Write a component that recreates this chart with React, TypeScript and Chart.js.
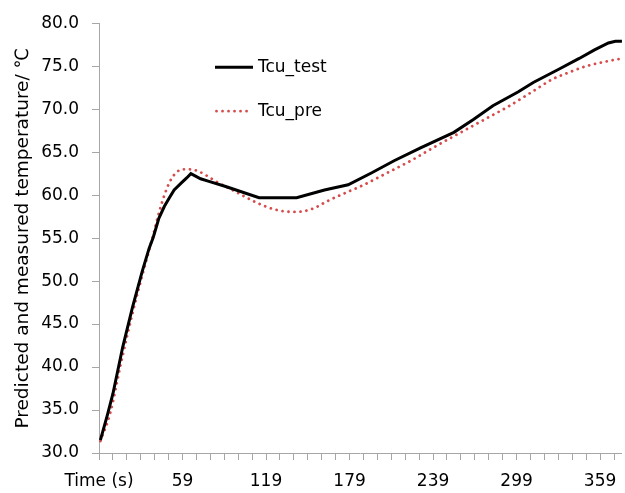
import React, { useEffect, useRef } from "react";
import { Chart, registerables } from "chart.js";

Chart.register(...registerables);

// ---- data (time in s, temperature in ℃) ----
const testTime = [0, 5, 9, 16, 23, 30, 35, 38, 42, 46, 50, 53, 58, 62, 65, 72, 78, 90, 114, 141, 161, 178, 195, 211, 230, 254, 268, 282, 300, 311, 330, 344, 355, 365, 370, 375];
const testValues = [31.5, 34.4, 36.9, 42.3, 46.9, 51.1, 53.8, 55.1, 57.3, 58.7, 59.8, 60.6, 61.4, 62.0, 62.5, 61.9, 61.6, 61.0, 59.7, 59.7, 60.6, 61.2, 62.6, 64.0, 65.5, 67.3, 68.8, 70.4, 72.0, 73.1, 74.7, 75.9, 76.9, 77.7, 77.9, 77.9];

const preTime = [0, 7, 15, 23, 30, 34, 38, 42, 46, 50, 55, 60, 64, 70, 76, 83, 97, 114, 126, 138, 147, 155, 163, 178, 188, 205, 223, 240, 259, 276, 294, 310, 325, 337, 349, 362, 375];
const preValues = [31.4, 34.6, 40.6, 46.2, 50.6, 53.0, 55.4, 57.9, 60.0, 61.6, 62.7, 63.0, 63.0, 62.8, 62.3, 61.6, 60.4, 59.0, 58.3, 58.05, 58.15, 58.6, 59.3, 60.4, 61.1, 62.5, 64.0, 65.6, 67.3, 68.8, 70.4, 72.0, 73.5, 74.3, 75.0, 75.5, 75.9];

const seriesNames = ["Tcu_test", "Tcu_pre"];
const xLabelTicks = [-1, 59, 119, 179, 239, 299, 359];
const xLabelTexts = ["Time (s)", "59", "119", "179", "239", "299", "359"];
const xMin = -1;
const xMax = 374.7;
const xMinorStep = 10;
const yMin = 30;
const yMax = 80;
const yStep = 5;
const yTitle = "Predicted and measured temperature/ \u2103";

const FONT = "'DejaVu Sans', sans-serif";
const AXIS_GRAY = "#a6a6a6";

const legendPlugin = {
  id: "inlineLegend",
  afterDraw(chart: any) {
    const ctx = chart.ctx;
    const { left, top } = chart.chartArea;
    chart.data.datasets.forEach((ds: any, i: number) => {
      const y = top + 44 + i * 44;
      const x0 = left + 116;
      const len = i === 0 ? 38 : 35;
      ctx.save();
      ctx.strokeStyle = ds.borderColor;
      ctx.lineWidth = ds.borderWidth;
      ctx.lineCap = ds.borderCapStyle || "butt";
      ctx.setLineDash(ds.borderDash || []);
      ctx.beginPath();
      ctx.moveTo(x0 + (i === 0 ? 0 : 1.5), y);
      ctx.lineTo(x0 + len, y);
      ctx.stroke();
      ctx.setLineDash([]);
      ctx.fillStyle = "#000";
      ctx.font = `17px ${FONT}`;
      ctx.textBaseline = "middle";
      ctx.textAlign = "left";
      ctx.fillText(ds.label, x0 + 43, y);
      ctx.restore();
    });
  },
};

export default function App() {
  const ref = useRef<HTMLCanvasElement | null>(null);

  useEffect(() => {
    if (!ref.current) return;
    const xTickValues: number[] = [];
    for (let v = xMin; v <= xMax; v += xMinorStep) xTickValues.push(v);

    const chart = new Chart(ref.current, {
      type: "line",
      data: {
        datasets: [
          {
            label: seriesNames[0],
            data: testTime.map((t, i) => ({ x: t, y: testValues[i] })),
            borderColor: "#000000",
            borderWidth: 3,
            pointRadius: 0,
            tension: 0,
            fill: false,
          },
          {
            label: seriesNames[1],
            data: preTime.map((t, i) => ({ x: t, y: preValues[i] })),
            borderColor: "#d64b4b",
            borderWidth: 2.8,
            borderDash: [0.01, 6],
            borderCapStyle: "round",
            pointRadius: 0,
            cubicInterpolationMode: "monotone",
            fill: false,
          },
        ],
      },
      options: {
        responsive: false,
        animation: false,
        layout: { padding: { top: 20, right: 0, bottom: 0, left: 0 } },
        plugins: {
          legend: { display: false },
          tooltip: { enabled: false },
        },
        scales: {
          x: {
            type: "linear",
            min: xMin,
            max: xMax,
            afterBuildTicks: (scale: any) => {
              scale.ticks = xTickValues.map((v) => ({ value: v }));
            },
            afterFit: (scale: any) => {
              scale.height = 40;
            },
            ticks: {
              autoSkip: false,
              maxRotation: 0,
              minRotation: 0,
              padding: 11,
              color: "#000",
              font: { family: FONT, size: 17 },
              callback: (value: any) => {
                const idx = xLabelTicks.indexOf(Number(value));
                return idx >= 0 ? xLabelTexts[idx] : "";
              },
            },
            grid: {
              drawOnChartArea: false,
              drawTicks: true,
              tickLength: 7,
              color: AXIS_GRAY,
            },
            border: { display: true, color: AXIS_GRAY, width: 1 },
          },
          y: {
            type: "linear",
            min: yMin,
            max: yMax,
            afterFit: (scale: any) => {
              scale.width = 99;
            },
            ticks: {
              stepSize: yStep,
              padding: 13,
              color: "#000",
              font: { family: FONT, size: 17 },
              callback: (value: any) => Number(value).toFixed(1),
            },
            grid: {
              drawOnChartArea: false,
              drawTicks: true,
              tickLength: 7,
              color: AXIS_GRAY,
            },
            border: { display: true, color: AXIS_GRAY, width: 1 },
            title: {
              display: true,
              text: yTitle,
              color: "#000",
              font: { family: FONT, size: 18.5 },
              padding: { top: 12, bottom: 0 },
            },
          },
        },
      },
      plugins: [legendPlugin],
    });
    return () => chart.destroy();
  }, []);

  return (
    <canvas
      ref={ref}
      width={625}
      height={493}
      style={{ position: "absolute", left: 0, top: 0, display: "block", background: "#fff" }}
    />
  );
}
